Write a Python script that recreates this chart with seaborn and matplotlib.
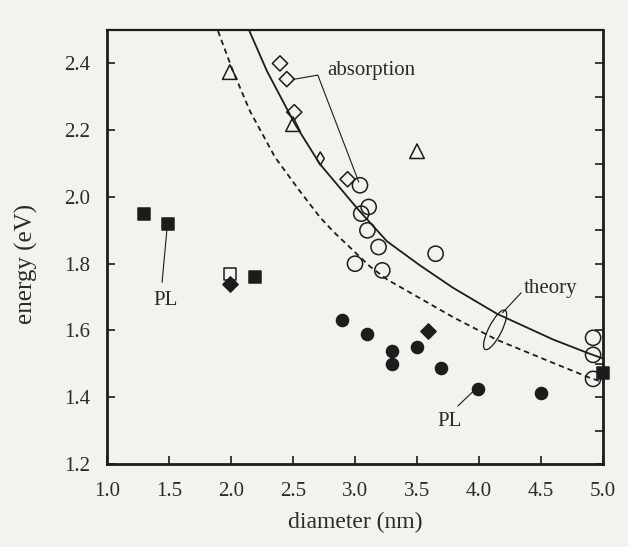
import matplotlib
matplotlib.use("Agg")
import matplotlib.pyplot as plt
import matplotlib.transforms as mtransforms
from matplotlib.patches import Ellipse
from matplotlib.ticker import MultipleLocator, FormatStrFormatter
import seaborn as sns

# ---- data: band-gap energy vs. nanocrystal diameter -------------------------
# absorption, open circles
abs_circle_d = [3.04, 3.11, 3.05, 3.10, 3.19, 3.65, 3.00, 3.22, 4.92, 4.92, 4.92]
abs_circle_e = [2.035, 1.97, 1.95, 1.90, 1.85, 1.83, 1.80, 1.78, 1.578, 1.527, 1.455]
# absorption, open diamonds
abs_diamond_d = [2.395, 2.45, 2.51, 2.94]
abs_diamond_e = [2.40, 2.353, 2.254, 2.053]
abs_thin_d = [2.72]
abs_thin_e = [2.115]
# absorption, open triangles
abs_triangle_d = [1.99, 2.50, 3.50]
abs_triangle_e = [2.374, 2.218, 2.137]
# absorption, open square
abs_square_d = [1.99]
abs_square_e = [1.77]

# photoluminescence, filled squares
pl_square_d = [1.30, 1.49, 2.19, 5.00]
pl_square_e = [1.95, 1.92, 1.76, 1.473]
# photoluminescence, filled diamonds
pl_diamond_d = [1.99, 3.59]
pl_diamond_e = [1.74, 1.597]
# photoluminescence, filled circles
pl_circle_d = [2.895, 3.10, 3.30, 3.30, 3.50, 3.69, 3.99, 4.50]
pl_circle_e = [1.63, 1.59, 1.54, 1.50, 1.55, 1.488, 1.426, 1.414]

# theory curves
theory_solid_d = [2.145, 2.29, 2.516, 2.718, 3.024, 3.258, 3.524, 3.79, 4.145, 4.597, 4.895, 5.0]
theory_solid_e = [2.500, 2.377, 2.218, 2.098, 1.963, 1.867, 1.795, 1.728, 1.650, 1.573, 1.530, 1.516]
theory_dash_d = [1.895, 2.016, 2.153, 2.355, 2.556, 2.718, 2.823, 3.12, 3.258, 3.79, 4.145, 4.597, 4.895, 5.0]
theory_dash_e = [2.497, 2.377, 2.257, 2.119, 2.017, 1.939, 1.897, 1.792, 1.753, 1.640, 1.572, 1.503, 1.458, 1.445]

x_ticks = [1.0, 1.5, 2.0, 2.5, 3.0, 3.5, 4.0, 4.5, 5.0]
y_ticks = [1.2, 1.4, 1.6, 1.8, 2.0, 2.2, 2.4]

# ---- style ------------------------------------------------------------------
BG = "#f3f2ee"
INK = "#1c1c1c"
TEXT = "#2a2a2a"

sns.set_theme(style="ticks")
plt.rcParams["font.family"] = ["Liberation Serif", "DejaVu Serif"]
plt.rcParams["axes.edgecolor"] = INK
plt.rcParams["text.color"] = TEXT
plt.rcParams["axes.labelcolor"] = TEXT
plt.rcParams["xtick.color"] = INK
plt.rcParams["ytick.color"] = INK
plt.rcParams["xtick.labelcolor"] = TEXT
plt.rcParams["ytick.labelcolor"] = TEXT

fig = plt.figure(figsize=(6.28, 5.47), dpi=100, facecolor=BG)
ax = fig.add_axes([0.1704, 0.1517, 0.7898, 0.7934], facecolor=BG)


def points(x, y, marker, size, filled, lw=1.1, clip=True):
    sns.scatterplot(
        x=x, y=y, marker=marker, s=size, ax=ax, legend=False,
        facecolor=INK if filled else "none", edgecolor=INK,
        linewidth=lw, zorder=4,
    )
    if not clip:
        ax.collections[-1].set_clip_on(False)


# theory lines
sns.lineplot(x=theory_solid_d, y=theory_solid_e, ax=ax, color=INK, lw=1.3, zorder=2)
sns.lineplot(x=theory_dash_d, y=theory_dash_e, ax=ax, color=INK, lw=1.3,
             linestyle=(0, (3.0, 2.2)), zorder=2)

# absorption
points(abs_circle_d, abs_circle_e, "o", 120, False)
points(abs_diamond_d, abs_diamond_e, "D", 60, False)
points(abs_thin_d, abs_thin_e, "d", 45, False)
points(abs_triangle_d, abs_triangle_e, "^", 110, False)
points(abs_square_d, abs_square_e, "s", 80, False)

# photoluminescence
points(pl_square_d, pl_square_e, "s", 75, True, clip=False)
points(pl_diamond_d, pl_diamond_e, "D", 60, True)
points(pl_circle_d, pl_circle_e, "o", 75, True)

# ---- annotations ------------------------------------------------------------
lead = dict(color=INK, lw=0.8, zorder=3)
ax.plot([2.50, 2.70, 3.03], [2.352, 2.365, 2.045], **lead)
ax.text(2.78, 2.378, "absorption", fontsize=15, ha="left", va="center")

ax.plot([1.484, 1.444], [1.906, 1.744], **lead)
ax.text(1.47, 1.69, "PL", fontsize=15, ha="center", va="center")

ax.plot([3.96, 3.83], [1.42, 1.374], **lead)
ax.text(3.76, 1.326, "PL", fontsize=15, ha="center", va="center")

ax.plot([4.19, 4.34], [1.653, 1.713], **lead)
ax.text(4.36, 1.725, "theory", fontsize=15, ha="left", va="center")

ell_anchor = mtransforms.ScaledTranslation(4.13, 1.602, ax.transData)
ax.add_patch(Ellipse((0, 0), 44, 13, angle=63, fill=False, ec=INK, lw=0.9,
                     transform=ell_anchor, zorder=3))

# ---- axes -------------------------------------------------------------------
ax.set_xlim(1.0, 5.0)
ax.set_ylim(1.2, 2.5)
ax.set_xticks(x_ticks)
ax.set_yticks(y_ticks)
ax.xaxis.set_major_formatter(FormatStrFormatter("%.1f"))
ax.yaxis.set_major_formatter(FormatStrFormatter("%.1f"))
ax.yaxis.set_minor_locator(MultipleLocator(0.1))
ax.tick_params(which="major", direction="in", length=6, width=1.2,
               labelsize=15, top=False, right=True)
ax.tick_params(axis="x", which="major", pad=13)
ax.tick_params(axis="y", which="major", pad=12)
ax.tick_params(axis="y", which="minor", direction="in", length=6, width=1.2,
               left=False, right=True)
for side in ["left", "bottom", "right"]:
    ax.spines[side].set_linewidth(2.0)
ax.spines["top"].set_linewidth(1.6)

ax.set_xlabel("diameter (nm)", fontsize=17)
ax.set_ylabel("energy (eV)", fontsize=18)
ax.xaxis.set_label_coords(0.5, -0.11)
ax.yaxis.set_label_coords(-0.139, 0.46)

fig.savefig("out.png", dpi=100, facecolor=BG)
